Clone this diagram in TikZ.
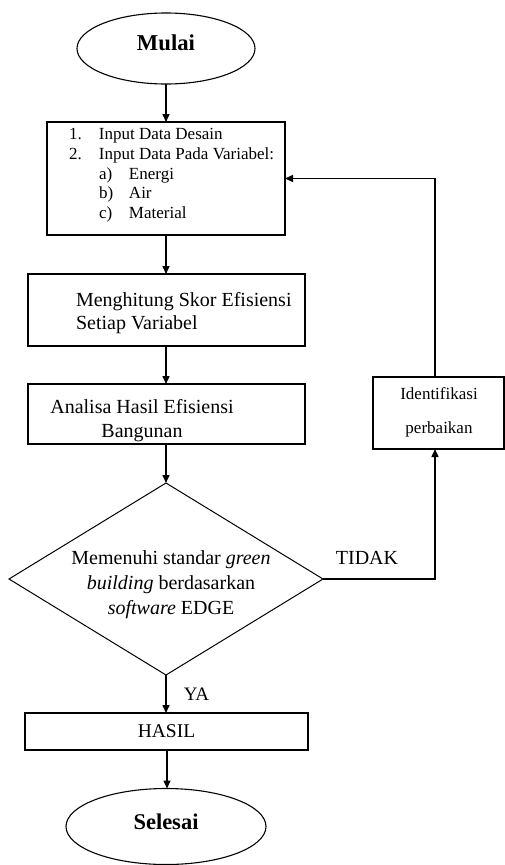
\documentclass[tikz,border=0pt]{standalone}
\usepackage{fontspec}
\setmainfont{Liberation Serif}
\usetikzlibrary{shapes.geometric,arrows.meta}
\newcommand{\fs}[2]{\fontsize{#1}{#2}\selectfont}
\begin{document}
\begin{tikzpicture}[x=1pt,y=-1pt,
  rectbox/.style={draw,line width=1.3pt,inner sep=0pt,outer sep=0pt},
  term/.style={draw,ellipse,line width=1.1pt,inner sep=0pt,outer sep=0pt},
  decide/.style={draw,diamond,line width=1pt,inner sep=0pt,outer sep=0pt},
  txt/.style={inner sep=0pt,outer sep=0pt},
  arr/.style={line width=1.5pt,-{Triangle[length=8pt,width=7pt]}}]
\useasboundingbox (0,0) rectangle (505,865);
% terminals
\node[term,minimum width=178pt,minimum height=71pt] (mulai) at (166,48.5) {};
\node[txt,anchor=base,font=\fs{22.7}{26}\bfseries] (mulaitxt) at (166,50.7) {Mulai};
% input box
\node[rectbox,minimum width=238pt,minimum height=113pt] (input) at (166,178.5) {};
\node[txt,anchor=base west,font=\fs{17}{19.75}] (inputtxt) at (69,139.5) {\begin{tabular}[t]{@{}l@{}}
\makebox[30pt][l]{1.}Input Data Desain\\
\makebox[30pt][l]{2.}Input Data Pada Variabel:\\
\hspace*{30pt}\makebox[30pt][l]{a)}Energi\\
\hspace*{30pt}\makebox[30pt][l]{b)}Air\\
\hspace*{30pt}\makebox[30pt][l]{c)}Material
\end{tabular}};
% box2
\node[rectbox,minimum width=277pt,minimum height=72pt] (skor) at (166.5,310) {};
\node[txt,anchor=base west,font=\fs{20}{23}] (skortxt) at (76,306) {\begin{tabular}[t]{@{}l@{}}
Menghitung Skor Efisiensi\\ Setiap Variabel\end{tabular}};
% box3
\node[rectbox,minimum width=277pt,minimum height=60pt] (analisa) at (166.5,414) {};
\node[txt,anchor=base,font=\fs{20}{24}] (analisatxt) at (142,413) {\begin{tabular}[t]{@{}c@{}}
Analisa Hasil Efisiensi\\ Bangunan\end{tabular}};
% decision
\node[decide,minimum width=314pt,minimum height=192pt] (dia) at (166,579) {};
\node[txt,anchor=base,font=\fs{20}{25}] (diatxt) at (171,564) {\begin{tabular}[t]{@{}c@{}}
Memenuhi standar \textit{green}\\ \textit{building} berdasarkan\\ \textit{software} EDGE\end{tabular}};
% identifikasi box
\node[rectbox,minimum width=131pt,minimum height=72pt] (ident) at (438.5,413) {};
\node[txt,anchor=base,font=\fs{17}{34}] (identtxt) at (439,399) {\begin{tabular}[t]{@{}c@{}}
Identifikasi\\ perbaikan\end{tabular}};
% hasil
\node[rectbox,minimum width=283pt,minimum height=37pt,font=\fs{19.5}{22}] (hasil) at (166.5,731.5) {HASIL};
\node[term,minimum width=200pt,minimum height=76pt] (selesai) at (166,826.5) {};
\node[txt,anchor=base,font=\fs{22.5}{26}\bfseries] (selesaitxt) at (166,829) {Selesai};
% labels
\node[txt,anchor=base,font=\fs{20}{24}] (tidak) at (367,564) {TIDAK};
\node[txt,anchor=base,font=\fs{19}{22}] (ya) at (196.5,700) {YA};
% connectors
\draw[arr] (mulai.south) -- (input.north);
\draw[arr] (input.south) -- (input.south |- skor.north);
\draw[arr] (input.south |- skor.south) -- (input.south |- analisa.north);
\draw[arr] (input.south |- analisa.south) -- (dia.north);
\draw[arr] (dia.south) -- (dia.south |- hasil.north);
\draw[arr] ([xshift=0.5pt]hasil.south) -- ([xshift=0.5pt]hasil.south |- selesai.north);
\draw[arr] (dia.east) -| ([xshift=-3.5pt]ident.south);
\draw[arr] ([xshift=-3.5pt]ident.north) |- (input.east);
\end{tikzpicture}
\end{document}
